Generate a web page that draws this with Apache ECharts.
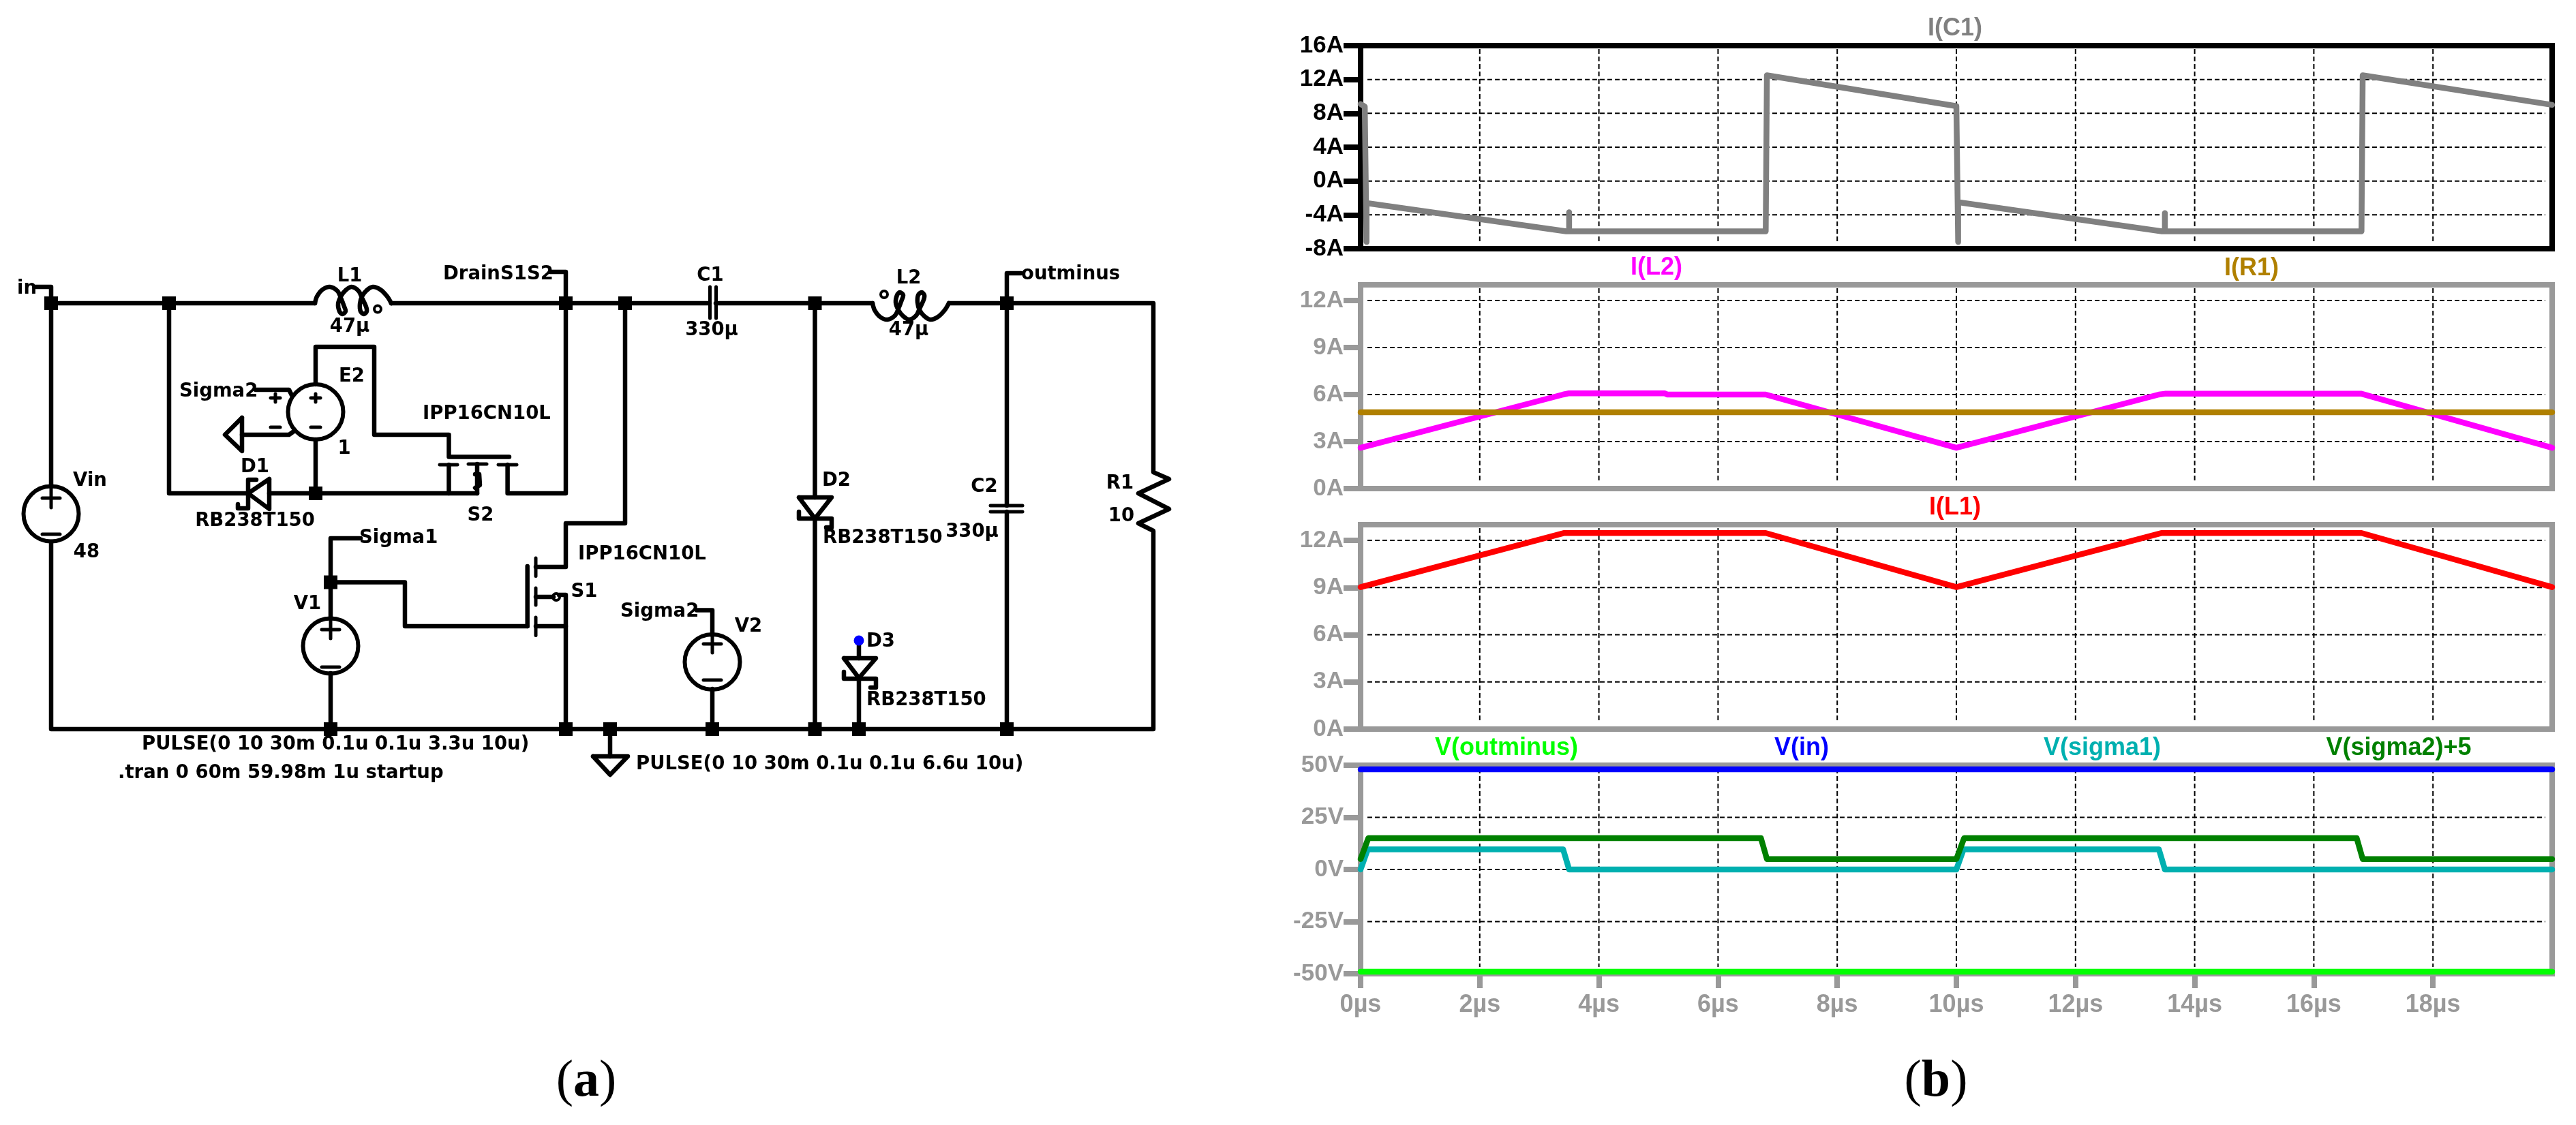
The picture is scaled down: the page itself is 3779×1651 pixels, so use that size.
<!DOCTYPE html>
<html>
<head>
<meta charset="utf-8">
<title>Circuit and waveforms</title>
<script src="https://cdn.jsdelivr.net/npm/echarts@6/dist/echarts.min.js"></script>
<style>
  html, body { margin: 0; padding: 0; background: #fff; }
  #main { width: 3779px; height: 1651px; }
</style>
</head>
<body>
<div id="main"></div>
<script>
// waveforms, [time in us, value]
const iC1 = [[0, 9.1], [0.07, 8.8], [0.1, -7.2], [0.1, -2.6], [3.45, -5.95], [3.5, -5.95], [3.5, -3.7], [3.5, -5.95],
  [6.8, -5.95], [6.82, 12.5], [10, 8.85], [10.03, -7.2], [10.03, -2.5], [13.45, -5.95], [13.5, -5.95], [13.5, -3.8], [13.5, -5.95],
  [16.8, -5.95], [16.82, 12.5], [20, 9.0]];
const iL2 = [[0, 2.6], [3.4, 6.0], [3.5, 6.08], [5.1, 6.08], [5.15, 6.0], [6.8, 6.0], [10, 2.6], [13.4, 6.0], [13.5, 6.05], [16.8, 6.05], [20, 2.6]];
const iR1 = [[0, 4.87], [20, 4.87]];
const iL1 = [[0, 9.03], [3.42, 12.47], [6.8, 12.47], [10, 9.03], [13.45, 12.47], [16.8, 12.47], [20, 9.03]];
const vOutminus = [[0, -49], [20, -49]];
const vIn = [[0, 48], [20, 48]];
const vSigma1 = [[0, 0], [0.12, 9.6], [3.4, 9.6], [3.5, 0], [10, 0], [10.12, 9.6], [13.4, 9.6], [13.5, 0], [20, 0]];
const vSigma2 = [[0, 5], [0.13, 15], [6.72, 15], [6.82, 5], [10, 5], [10.13, 15], [16.72, 15], [16.82, 5], [20, 5]];

const timeTicks = [0, 2, 4, 6, 8, 10, 12, 14, 16, 18];
const c1Ticks = [-8, -4, 0, 4, 8, 12, 16];
const inductorTicks = [0, 3, 6, 9, 12];
const voltTicks = [-50, -25, 0, 25, 50];

// schematic drawing, in units of the hidden schematic axes
const coil = [[0, 0], [3, -10], [11, -20], [22, -24], [33, -18], [38, -8], [43, 5], [45, 12], [40, 16], [36, 12], [34, 1], [38, -10],
  [45, -19], [54, -24], [64, -18], [69, -8], [75, 5], [76, 12], [72, 16], [67, 12], [66, 1], [69, -10], [76, -19], [85, -24], [96, -20], [106, -10], [112, 0]];
const coilL1 = coil.map(p => [462 + p[0], 445 + p[1]]);
const coilL2 = coil.map(p => [1280 + p[0], 445 - p[1]]);

const wires = [
  [[51, 421], [75, 421], [75, 714]],
  [[75, 795], [75, 1070], [1692, 1070], [1692, 779], [1670, 768], [1715, 747], [1670, 724], [1715, 703], [1692, 693], [1692, 445], [1392, 445]],
  [[75, 445], [462, 445]], [[574, 445], [1041, 445]], [[1050, 445], [1280, 445]],
  [[248, 445], [248, 724], [364, 724]], [[395, 724], [700, 724]],
  [[744.6, 682], [744.6, 724], [830, 724], [830, 445]], [[807, 399], [830, 399], [830, 445]],
  [[463, 564], [463, 509], [549, 509], [549, 638], [658.5, 638], [658.5, 670.5], [747, 670.5]], [[463, 645], [463, 724]],
  [[658.5, 682], [658.5, 724]], [[700, 681], [700, 724]], [[697, 696], [703, 696], [704, 712], [697, 716]],
  [[375, 572], [424, 572], [428, 580]], [[355, 638], [424, 638], [431, 633]], [[355, 613], [355, 662], [330, 638], [355, 613]],
  [[529, 790], [485, 790], [485, 908]], [[485, 988], [485, 1070]], [[485, 854.5], [594, 854.5], [594, 919], [773.7, 919]],
  [[773.7, 831], [773.7, 919]],
  [[786, 832], [830, 832], [830, 768], [917, 768], [917, 445]], [[786, 919], [830, 919]], [[786, 876], [812, 876]], [[820, 873], [830, 873], [830, 1070]],
  [[1022, 895.5], [1045, 895.5], [1045, 932]], [[1045, 1011], [1045, 1070]],
  [[895, 1070], [895, 1110]], [[870, 1110], [921, 1110], [895, 1137], [870, 1110]],
  [[1195.5, 445], [1195.5, 730]], [[1172, 730], [1220, 730], [1195.5, 761], [1172, 730]], [[1172, 751], [1172, 761], [1220, 761], [1220, 774], [1212, 774]], [[1195.5, 761], [1195.5, 1070]],
  [[1260, 940], [1260, 966]], [[1238, 966], [1285, 966], [1260, 995], [1238, 966]], [[1238, 986], [1238, 996], [1285, 996], [1285, 1009], [1277, 1009]], [[1260, 996], [1260, 1070]],
  [[395, 703], [395, 747], [364, 724], [395, 703]], [[376, 704], [364, 704], [364, 746], [349, 746], [349, 740]],
  [[1498, 401], [1477, 401], [1477, 742]], [[1477, 751], [1477, 1070]]
];
const thinWires = [
  [[645, 682], [671, 682]], [[687, 681], [714, 681]], [[731, 682], [758, 682]],
  [[397, 584], [411, 584]], [[404, 578], [404, 590]], [[456, 584], [470, 584]], [[463, 578], [463, 590]], [[397, 627], [411, 627]], [[456, 627], [470, 627]],
  [[62, 731], [88, 731]], [[75, 716], [75, 745]], [[62, 784], [88, 784]],
  [[472, 924], [498, 924]], [[485, 908], [485, 937]], [[472, 979], [498, 979]],
  [[1032, 945], [1058, 945]], [[1045, 932], [1045, 958]], [[1032, 998], [1058, 998]],
  [[786, 819], [786, 845.5]], [[786, 863], [786, 888]], [[786, 906], [786, 932.6]],
  [[1041.5, 421], [1041.5, 467]], [[1050.5, 421], [1050.5, 467]],
  [[1453, 742], [1500, 742]], [[1453, 751], [1500, 751]]
];
const coils = [coilL1, coilL2];
const sources = [[75, 754, 40.5], [463, 604.6, 40.5], [485, 948, 40.5], [1045, 971.4, 40.5], [554, 453.6, 5], [1297, 432, 5], [816, 876, 5]];
const junctions = [[75, 445], [248, 445], [830, 445], [917, 445], [1195.5, 445], [1477, 445], [463, 724], [485, 854.5],
  [485, 1070], [830, 1070], [895, 1070], [1045, 1070], [1195.5, 1070], [1260, 1070], [1477, 1070]];
const probes = [[1260, 940, 7.5]];
const netLabels = [
  ['in', 25, 424, 'left'], ['DrainS1S2', 650, 403, 'left'], ['outminus', 1498, 403, 'left'],
  ['L1', 513, 406, 'center'], ['47\u00b5', 513, 480, 'center'], ['C1', 1042, 405, 'center'], ['330\u00b5', 1044, 485, 'center'],
  ['L2', 1333, 409, 'center'], ['47\u00b5', 1333, 485, 'center'],
  ['Vin', 132, 706, 'center'], ['48', 127, 811, 'center'], ['E2', 516, 553, 'center'], ['1', 505, 659, 'center'],
  ['Sigma2', 263, 575, 'left'], ['IPP16CN10L', 620, 608, 'left'], ['S2', 705, 757, 'center'],
  ['D1', 374, 686, 'center'], ['RB238T150', 374, 765, 'center'],
  ['Sigma1', 527, 790, 'left'], ['V1', 451, 887, 'center'], ['IPP16CN10L', 848, 814, 'left'], ['S1', 857, 869, 'center'],
  ['Sigma2', 910, 898, 'left'], ['V2', 1098, 920, 'center'],
  ['D2', 1227, 706, 'center'], ['RB238T150', 1207, 790, 'left'], ['D3', 1271, 942, 'left'], ['RB238T150', 1271, 1028, 'left'],
  ['C2', 1444, 715, 'center'], ['330\u00b5', 1426, 781, 'center'], ['R1', 1643, 710, 'center'], ['10', 1645, 758, 'center'],
  ['PULSE(0 10 30m 0.1u 0.1u 3.3u 10u)', 208, 1093, 'left'], ['.tran 0 60m 59.98m 1u startup', 173, 1135, 'left'],
  ['PULSE(0 10 30m 0.1u 0.1u 6.6u 10u)', 933, 1122, 'left']
];

const AXIS_GREY = '#999999';
const SCHEMATIC_FONT = 'bold 27.5px "DejaVu Sans"';
const PANEL_LEFT = 1996, PANEL_WIDTH = 1748;

const panels = [
  { top: 67, height: 298, min: -8, max: 16, ticks: c1Ticks, unit: 'A', color: '#000' },
  { top: 418, height: 299, min: 0, max: 13, ticks: inductorTicks, unit: 'A', color: AXIS_GREY },
  { top: 770, height: 300, min: 0, max: 13, ticks: inductorTicks, unit: 'A', color: AXIS_GREY },
  { top: 1123, height: 306, min: -50, max: 50, ticks: voltTicks, unit: 'V', color: AXIS_GREY }
];

const traces = [
  ['I(C1)', iC1, 0, '#808080'], ['I(L2)', iL2, 1, '#ff00ff'], ['I(R1)', iR1, 1, '#b08000'], ['I(L1)', iL1, 2, '#ff0000'],
  ['V(sigma1)', vSigma1, 3, '#00b0b0'], ['V(sigma2)+5', vSigma2, 3, '#008000'], ['V(in)', vIn, 3, '#0000ff'], ['V(outminus)', vOutminus, 3, '#00ff00']
];

const traceTitles = [
  ['I(C1)', 2868, 42, '#808080'], ['I(L2)', 2430, 393, '#ff00ff'], ['I(R1)', 3303, 394, '#b08000'], ['I(L1)', 2868, 745, '#ff0000'],
  ['V(outminus)', 2210, 1098, '#00ff00'], ['V(in)', 2643, 1098, '#0000ff'], ['V(sigma1)', 3084, 1098, '#00b0b0'], ['V(sigma2)+5', 3519, 1098, '#008000']
];

const chart = echarts.init(document.getElementById('main'));

// dashed lines stop short of the frame, as in the simulator's plot window
function dashedGrid(panelIndex) {
  const panel = panels[panelIndex];
  const inner = panel.ticks.filter(v => v !== panel.min && v !== panel.max);
  const rows = timeTicks.filter(t => t > 0).map(t => [0, t]).concat(inner.map(v => [1, v]));
  return {
    type: 'custom', xAxisIndex: panelIndex, yAxisIndex: panelIndex, z: 1, silent: true, clip: false, data: rows,
    renderItem(params, api) {
      const box = params.coordSys;
      const style = { stroke: '#000', lineWidth: 2, lineDash: [7, 4], fill: null };
      if (api.value(0) === 0) {
        const x = api.coord([api.value(1), panel.min])[0];
        return { type: 'line', shape: { x1: x, y1: box.y + 5, x2: x, y2: box.y + box.height - 10 }, style };
      }
      const y = api.coord([0, api.value(1)])[1];
      return { type: 'line', shape: { x1: box.x + 10, y1: y, x2: box.x + box.width - 10, y2: y }, style };
    }
  };
}

function schematicSeries(items, renderItem) {
  return {
    type: 'custom', xAxisIndex: 4, yAxisIndex: 4, z: 3, silent: true, clip: false,
    data: items.map((item, i) => [i]), renderItem
  };
}

function polylineSeries(lines, lineWidth, smooth) {
  return schematicSeries(lines, (params, api) => ({
    type: 'polyline',
    shape: { points: lines[params.dataIndex].map(p => api.coord(p)), smooth: smooth },
    style: { stroke: '#000', lineWidth: lineWidth, fill: null, lineJoin: 'round', lineCap: 'round' }
  }));
}

const option = {
  animation: false,
  backgroundColor: '#fff',
  title: traceTitles.map(t => ({
    text: t[0], left: t[1], top: t[2], textAlign: 'center', textVerticalAlign: 'middle', padding: 0,
    textStyle: { color: t[3], fontFamily: 'Liberation Sans', fontWeight: 'bold', fontSize: 36 }
  })).concat([['a', 860], ['b', 2840]].map(c => ({
    text: '{p|(}{b|' + c[0] + '}{p|)}', left: c[1], top: 1588, textAlign: 'center', textVerticalAlign: 'middle', padding: 0,
    textStyle: {
      rich: {
        p: { fontFamily: 'Liberation Serif', fontSize: 76, fontWeight: 'normal', color: '#000' },
        b: { fontFamily: 'Liberation Serif', fontSize: 76, fontWeight: 'bold', color: '#000' }
      }
    }
  }))),
  grid: panels.map(p => ({
    left: PANEL_LEFT, width: PANEL_WIDTH, top: p.top, height: p.height,
    show: true, borderColor: p.color, borderWidth: 8, backgroundColor: 'transparent'
  })).concat([{ left: 0, top: 0, width: 1900, height: 1651 }]),
  xAxis: panels.map((p, i) => ({
    type: 'value', gridIndex: i, min: 0, max: 20, interval: 2,
    axisLine: { show: false, onZero: false }, splitLine: { show: false },
    axisTick: { show: i === 3, length: 21, lineStyle: { color: AXIS_GREY, width: 8 }, customValues: timeTicks },
    axisLabel: {
      show: i === 3, margin: 28, color: AXIS_GREY, fontFamily: 'Liberation Sans', fontWeight: 'bold', fontSize: 36,
      customValues: timeTicks, formatter: v => v + '\u00b5s'
    }
  })).concat([{ type: 'value', gridIndex: 4, min: 0, max: 1900, show: false }]),
  yAxis: panels.map((p, i) => ({
    type: 'value', gridIndex: i, min: p.min, max: p.max,
    axisLine: { show: false, onZero: false }, splitLine: { show: false },
    axisTick: { show: true, length: 25, lineStyle: { color: p.color, width: 8 }, customValues: p.ticks },
    axisLabel: {
      margin: 25, color: p.color, fontFamily: 'Liberation Sans', fontWeight: 'bold', fontSize: 35,
      customValues: p.ticks, formatter: v => v + p.unit
    }
  })).concat([{ type: 'value', gridIndex: 4, min: 0, max: 1651, inverse: true, show: false }]),
  series: panels.map((p, i) => dashedGrid(i)).concat(traces.map(t => ({
    name: t[0], type: 'line', data: t[1], xAxisIndex: t[2], yAxisIndex: t[2], z: 2,
    showSymbol: false, clip: false, silent: true,
    lineStyle: { color: t[3], width: 8.5, cap: 'round', join: 'round' }
  }))).concat([
    polylineSeries(wires, 6.5, 0),
    polylineSeries(thinWires, 5, 0),
    polylineSeries(coils, 6.5, 0.3),
    schematicSeries(sources, (params, api) => {
      const s = sources[params.dataIndex], c = api.coord(s);
      return { type: 'circle', shape: { cx: c[0], cy: c[1], r: s[2] }, style: { stroke: '#000', lineWidth: s[2] > 10 ? 6 : 4, fill: null } };
    }),
    schematicSeries(junctions, (params, api) => {
      const c = api.coord(junctions[params.dataIndex]);
      return { type: 'rect', shape: { x: c[0] - 10, y: c[1] - 10, width: 20, height: 20 }, style: { fill: '#000' } };
    }),
    schematicSeries(probes, (params, api) => {
      const s = probes[params.dataIndex], c = api.coord(s);
      return { type: 'circle', shape: { cx: c[0], cy: c[1], r: s[2] }, style: { fill: '#0000ff' } };
    }),
    schematicSeries(netLabels, (params, api) => {
      const l = netLabels[params.dataIndex], c = api.coord([l[1], l[2]]);
      return {
        type: 'text', x: c[0], y: c[1],
        style: { text: l[0], fill: '#000', font: SCHEMATIC_FONT, textAlign: l[3], textVerticalAlign: 'middle' }
      };
    })
  ])
};

chart.setOption(option);
</script>
</body>
</html>
